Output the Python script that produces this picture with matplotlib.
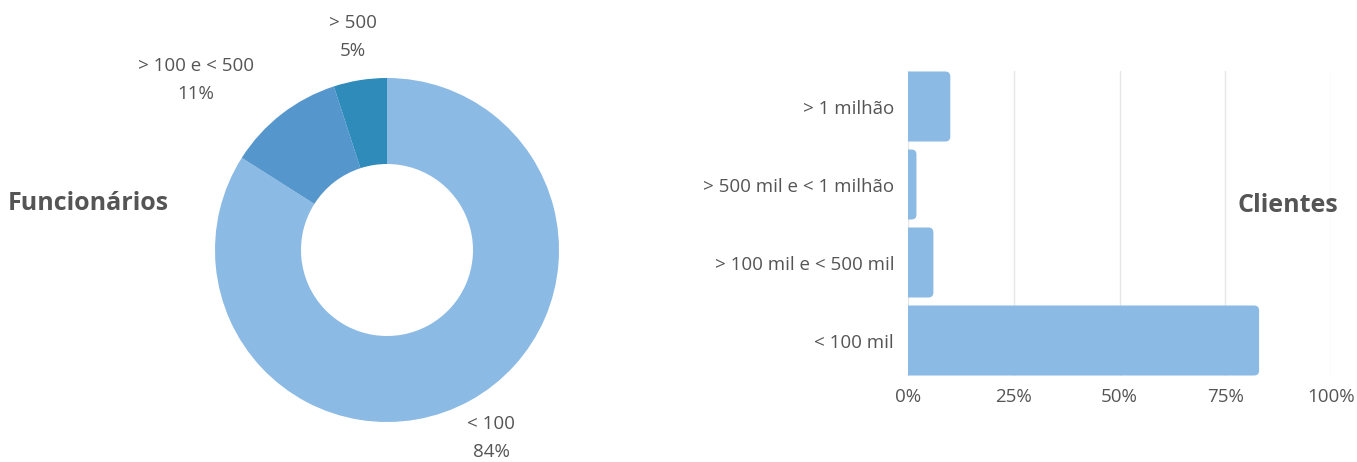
import numpy as np
import matplotlib
matplotlib.use("Agg")
import matplotlib.pyplot as plt
from matplotlib.patches import FancyBboxPatch

plt.rcParams['font.family'] = ['Open Sans', 'DejaVu Sans']

# Data
pie_labels = ["< 100", "> 100 e < 500", "> 500"]
pie_values = [84, 11, 5]
pie_colors = ["#8bbae4", "#5596cc", "#2e8bba"]

bar_categories = ["> 1 milhão", "> 500 mil e < 1 milhão", "> 100 mil e < 500 mil", "< 100 mil"]
bar_values = [10, 2, 6, 83]
bar_ticks = [0, 25, 50, 75, 100]

TEXT = "#555555"
FS = 13.5
W, H = 1357, 462
fig = plt.figure(figsize=(W / 100, H / 100), dpi=100)

# ---- Donut (axes in pixel data coords) ----
axp = fig.add_axes([0, 0, 680 / W, 1])
cx, cy, R = 387, H - 250, 172
wedges, _ = axp.pie(pie_values, colors=pie_colors, startangle=90, counterclock=False,
                    center=(cx, cy), radius=R, frame=True,
                    wedgeprops=dict(width=R * 0.5, edgecolor='none'))
axp.set_xlim(0, 680)
axp.set_ylim(0, H)
axp.set_aspect('equal', adjustable='box', anchor='SW')
axp.axis('off')
for w, lab, val in zip(wedges, pie_labels, pie_values):
    ang = np.deg2rad((w.theta1 + w.theta2) / 2)
    c, s = np.cos(ang), np.sin(ang)
    x, y = cx + 1.26 * R * c, cy + 1.26 * R * s
    if abs(c) < 0.55:
        ha = 'center'
    else:
        ha = 'right' if c < 0 else 'left'
    dy = 2 if s < -0.5 else -1
    axp.text(x, y + dy, f"{lab}\n{val}%", ha=ha, va='center', fontsize=FS,
             color=TEXT, linespacing=1.68, multialignment='center')

fig.text(8 / W, 1 - 203 / H, "Funcionários", fontsize=18, fontweight='bold',
         color=TEXT, ha='left', va='center')

# ---- Bar chart ----
x0, x1, y0, y1 = 908, 1331, 71, 376
axb = fig.add_axes([x0 / W, 1 - y1 / H, (x1 - x0) / W, (y1 - y0) / H])
n = len(bar_categories)
band = 78.0
span = (y1 - y0) / band
axb.set_xlim(0, 100)
axb.set_ylim(1.5 + span / 2, 1.5 - span / 2)
bh = 70 / band
px_x = (x1 - x0) / 100.0
px_y = band
rpx = 5
rx = rpx / px_x
for i, v in enumerate(bar_values):
    p = FancyBboxPatch((-rx * 2, i - bh / 2), v + rx * 2, bh,
                       boxstyle=f"round,pad=0,rounding_size={rx}",
                       mutation_aspect=px_x / px_y,
                       facecolor="#8bbae4", edgecolor='none', zorder=3)
    axb.add_patch(p)
axb.set_yticks(range(n))
axb.set_yticklabels(bar_categories)
axb.set_xticks(bar_ticks)
axb.set_xticklabels([f"{t}%" for t in bar_ticks])
axb.tick_params(axis='both', length=0, labelsize=FS, labelcolor=TEXT)
axb.tick_params(axis='y', pad=10)
axb.tick_params(axis='x', pad=9)
for sp in axb.spines.values():
    sp.set_visible(False)
axb.grid(axis='x', color="#e6e6e6", linewidth=1, zorder=0)
axb.set_axisbelow(True)

fig.text(1338 / W, 1 - 205 / H, "Clientes", fontsize=18, fontweight='bold',
         color=TEXT, ha='right', va='center')

fig.savefig("out.png", dpi=100, facecolor='white')
